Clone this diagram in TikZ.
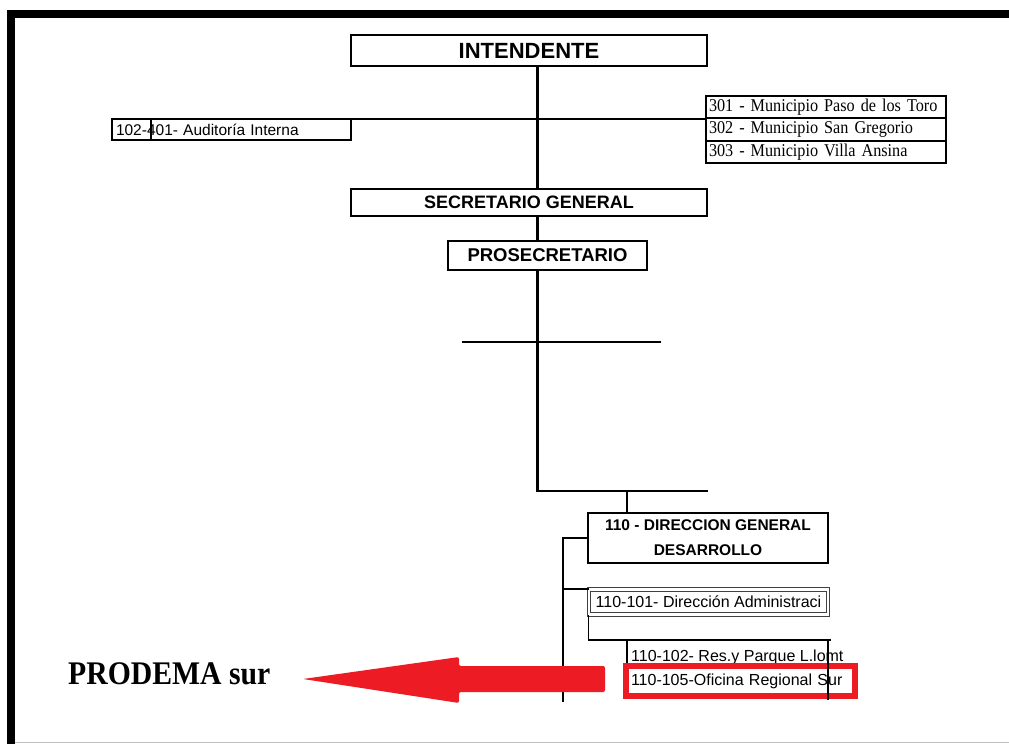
\documentclass[tikz,border=0pt]{standalone}
\usepackage{fontspec}
\setmainfont{Liberation Sans}
\newfontfamily\romana[FakeStretch=0.9]{Liberation Serif}
\usetikzlibrary{positioning}

\definecolor{rojo}{HTML}{ED1C24}

\tikzset{
	cargo/.style={draw, line width=2.6pt, fill=white, inner sep=0pt, outer sep=0pt},
	fila/.style={draw, line width=1.8pt, fill=white, inner sep=0pt, inner xsep=3pt, outer sep=0pt, text width=234pt, minimum height=22.5pt, align=left, font=\romana\fontsize{18}{19}\selectfont},
	linea/.style={line width=3pt},
	lineafina/.style={line width=1.6pt},
}

\begin{document}
\begin{tikzpicture}[x=1pt, y=-1pt]
	\useasboundingbox (0,0) rectangle (1009,744);
	\fill[white] (0,0) rectangle (1009,744);
	% marco de la captura
	\fill[black] (7,10) rectangle (1009,18);
	\fill[black] (7,10) rectangle (15,744);
	\draw[black!25, line width=1pt] (15,742) -- (1009,742);

	\coordinate (eje) at (537,0);

	\node[cargo, minimum width=356pt, minimum height=31pt, font=\bfseries\fontsize{22}{24}\selectfont] (intendente) at (529,50.5) {INTENDENTE};
	\node[cargo, minimum width=356pt, minimum height=27pt, font=\bfseries\fontsize{18}{20}\selectfont] (secretario) at (529,202.5) {SECRETARIO GENERAL};
	\node[cargo, minimum width=199pt, minimum height=29pt, font=\bfseries\fontsize{18.5}{20}\selectfont] (prosecretario) at (547.5,255.5) {PROSECRETARIO};

	% auditoria y municipios
	\node[fila, text width=231pt, inner xsep=4pt, minimum height=21pt, font=\fontsize{15.5}{17}\selectfont] (auditoria) at (231.5,129.5) {102-401- Auditoría Interna};
	\draw[lineafina] ([xshift=39pt]auditoria.north west) -- ([xshift=39pt]auditoria.south west);
	\node[fila] (muni1) at (826,107) {301 - Municipio Paso de los Toro};
	\node[fila, below=0pt of muni1] (muni2) {302 - Municipio San Gregorio};
	\node[fila, below=0pt of muni2] (muni3) {303 - Municipio Villa Ansina};

	\draw[lineafina] (auditoria.north east) -- (auditoria.north east -| muni1.west);
	\draw[linea] (intendente.south -| eje) -- (secretario.north -| eje);
	\draw[linea] (secretario.south -| eje) -- (prosecretario.north -| eje);

	% tronco hacia abajo
	\coordinate (codo) at (537,492);
	\coordinate (ramaD) at (708,491);
	\coordinate (cruceI) at (462,342);
	\coordinate (cruceD) at (661,342);
	\draw[linea] (prosecretario.south -| eje) -- (codo);
	\draw[lineafina] (cruceI) -- (cruceD);
	\draw[lineafina] (539,491) -- (ramaD);

	% direccion general
	\node[cargo, minimum width=240pt, minimum height=50pt, align=center, font=\bfseries\fontsize{15.5}{25}\selectfont] (direccion) at (708,538) {110 - DIRECCION GENERAL\\DESARROLLO};
	\coordinate (bajada) at (627,491);
	\draw[lineafina] (bajada) -- (bajada |- direccion.north);
	\coordinate (espina) at (563,702);
	\draw[lineafina] (direccion.west) -| (espina);

	\node[draw=black!75, double, double distance=2.5pt, line width=0.9pt, fill=white, minimum width=239pt, minimum height=25pt, inner sep=0pt, font=\fontsize{16}{18}\selectfont] (admin) at (708.5,602) {110-101- Dirección Administraci};
	\draw[lineafina] (espina |- admin.north west) -- (admin.north west);

	% reservas y oficina regional
	\coordinate (parqueD) at (831,640);
	\coordinate (parqueI) at (627,663);
	\draw[line width=1.3pt] (admin.south west) |- (parqueD);
	\draw[line width=1.3pt] (parqueI) -- (parqueI |- parqueD);
	\node[anchor=base west, inner sep=0pt, font=\fontsize{16}{18}\selectfont] (parque) at (631,661) {110-102- Res.y Parque L.lomt};

	\node[draw=rojo, line width=6pt, fill=white, minimum width=229pt, minimum height=30pt, inner sep=0pt, inner xsep=5pt, text width=219pt, align=left, font=\fontsize{16}{18}\selectfont] (oficina) at (740.5,681) {110-105-Oficina Regional Sur};
	\draw[line width=1.3pt] (828,640) -- (828,700);

	% flecha roja
	\coordinate (flechaIni) at (605,679);
	\coordinate (flechaFin) at (303,679);
	\fill[rojo, rounded corners=2pt] (flechaIni) ++(0,-13) -- (459,666) -- (459,657) -- (flechaFin) -- (459,703) -- (459,692) -- ++(146,0) -- cycle;

	\node[anchor=base west, inner sep=0pt, font=\romana\bfseries\fontsize{33}{35}\selectfont] (prodema) at (68,684) {PRODEMA sur};
\end{tikzpicture}
\end{document}
